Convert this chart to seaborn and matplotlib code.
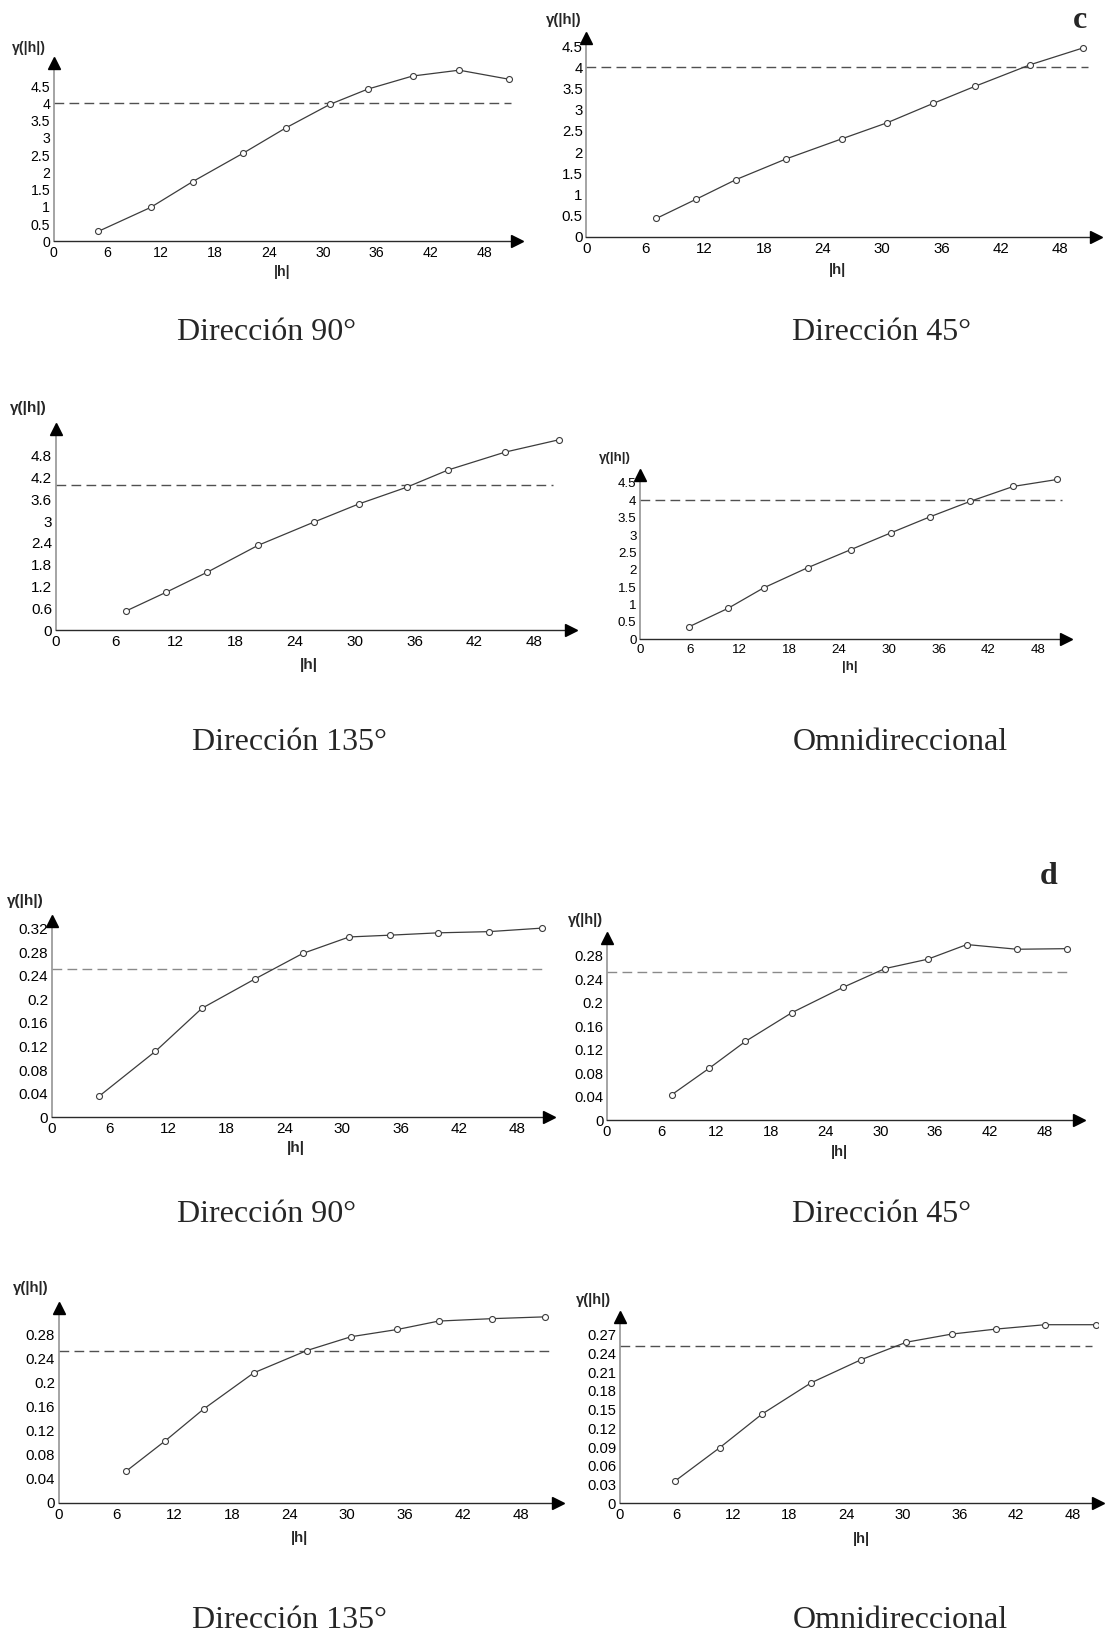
import matplotlib
matplotlib.use("Agg")
import matplotlib.pyplot as plt
import seaborn as sns

# ---------------- data ----------------
c90_x = [5.0, 10.8, 15.5, 21.1, 25.9, 30.8, 35.0, 40.0, 45.2, 50.7]
c90_y = [0.29, 0.98, 1.73, 2.55, 3.29, 3.97, 4.41, 4.79, 4.96, 4.70]
c45_x = [7.1, 11.1, 15.2, 20.3, 25.9, 30.5, 35.2, 39.4, 45.0, 50.4]
c45_y = [0.43, 0.88, 1.35, 1.84, 2.31, 2.69, 3.15, 3.55, 4.06, 4.46]
c135_x = [7.05, 11.1, 15.2, 20.3, 25.9, 30.4, 35.2, 39.4, 45.1, 50.5]
c135_y = [0.52, 1.04, 1.59, 2.33, 2.97, 3.47, 3.93, 4.41, 4.90, 5.24]
comni_x = [5.9, 10.6, 14.9, 20.2, 25.4, 30.2, 35.0, 39.8, 45.0, 50.3]
comni_y = [0.36, 0.89, 1.48, 2.06, 2.58, 3.06, 3.53, 3.97, 4.40, 4.60]

d90_x = [4.9, 10.7, 15.5, 21.0, 25.9, 30.7, 34.9, 39.9, 45.1, 50.6]
d90_y = [0.036, 0.112, 0.185, 0.235, 0.278, 0.306, 0.309, 0.313, 0.315, 0.321]
d45_x = [7.1, 11.2, 15.2, 20.3, 25.9, 30.5, 35.2, 39.5, 45.0, 50.5]
d45_y = [0.043, 0.088, 0.134, 0.183, 0.226, 0.258, 0.274, 0.299, 0.291, 0.292]
d135_x = [7.0, 11.1, 15.1, 20.3, 25.8, 30.4, 35.2, 39.5, 45.0, 50.5]
d135_y = [0.052, 0.103, 0.156, 0.216, 0.253, 0.276, 0.288, 0.302, 0.306, 0.309]
domni_x = [5.9, 10.6, 15.1, 20.3, 25.6, 30.4, 35.2, 39.9, 45.1, 50.5]
domni_y = [0.036, 0.089, 0.143, 0.193, 0.230, 0.258, 0.271, 0.279, 0.286, 0.286]

sill_c = 4.0
sill_d = 0.252

xticks = [0, 6, 12, 18, 24, 30, 36, 42, 48]
yt_c45 = [0, 0.5, 1, 1.5, 2, 2.5, 3, 3.5, 4, 4.5]
yt_c135 = [0, 0.6, 1.2, 1.8, 2.4, 3, 3.6, 4.2, 4.8]
yt_d90 = [0, 0.04, 0.08, 0.12, 0.16, 0.2, 0.24, 0.28, 0.32]
yt_d45 = [0, 0.04, 0.08, 0.12, 0.16, 0.2, 0.24, 0.28]
yt_domni = [0, 0.03, 0.06, 0.09, 0.12, 0.15, 0.18, 0.21, 0.24, 0.27]

titles = ["Dirección 90°", "Dirección 45°", "Dirección 135°", "Omnidireccional"]
ylab = "γ(|h|)"
xlab = "|h|"

# ---------------- layout (pixels of the 1107x1636 figure) ----------------
W, H = 1107, 1636
panels = [
    dict(x=c90_x, y=c90_y, sill=sill_c, yt=yt_c45, x0=53.6, x48=484.3, xtip=523, y0=241.3, yr=103.3, yrv=4, ytip=57,
         dash=51.0, fs=10.2, xl=(282, 272), yl=(29, 48), t=titles[0], tp=(267, 333), dc="#505050"),
    dict(x=c45_x, y=c45_y, sill=sill_c, yt=yt_c45, x0=586.2, x48=1059.7, xtip=1102, y0=236.7, yr=67.3, yrv=4, ytip=32,
         dash=50.9, fs=10.8, xl=(837, 270), yl=(564, 20), t=titles[1], tp=(882, 333), dc="#505050"),
    dict(x=c135_x, y=c135_y, sill=sill_c, yt=yt_c135, x0=55.5, x48=534.2, xtip=577, y0=630, yr=455.7, yrv=4.8, ytip=423,
         dash=49.9, fs=11.0, xl=(309, 665), yl=(28, 408), t=titles[2], tp=(289, 742), dc="#505050"),
    dict(x=comni_x, y=comni_y, sill=sill_c, yt=yt_c45, x0=640, x48=1038.3, xtip=1071.7, y0=639.3, yr=500.3, yrv=4, ytip=469,
         dash=50.8, fs=9.6, xl=(850, 667), yl=(615, 458), t=titles[3], tp=(900, 742), dc="#505050"),
    dict(x=d90_x, y=d90_y, sill=sill_d, yt=yt_d90, x0=51.8, x48=516.8, xtip=555, y0=1117.3, yr=928.7, yrv=0.32, ytip=915,
         dash=51.1, fs=11.0, xl=(296, 1148), yl=(25, 901), t=titles[0], tp=(267, 1215), dc="#8a8a8a"),
    dict(x=d45_x, y=d45_y, sill=sill_d, yt=yt_d45, x0=607, x48=1044.3, xtip=1085, y0=1120, yr=955.7, yrv=0.28, ytip=932,
         dash=51.0, fs=10.6, xl=(839, 1152), yl=(585, 920), t=titles[1], tp=(882, 1215), dc="#8a8a8a"),
    dict(x=d135_x, y=d135_y, sill=sill_d, yt=yt_d45, x0=58.5, x48=520.5, xtip=564, y0=1502.7, yr=1334.3, yrv=0.28, ytip=1302,
         dash=51.0, fs=10.8, xl=(300, 1538), yl=(31, 1288), t=titles[2], tp=(289, 1621), dc="#505050"),
    dict(x=domni_x, y=domni_y, sill=sill_d, yt=yt_domni, x0=619.7, x48=1072.4, xtip=1104, y0=1503.3, yr=1334.7, yrv=0.27, ytip=1311,
         dash=50.1, fs=10.6, xl=(861, 1539), yl=(593, 1300), t=titles[3], tp=(900, 1621), dc="#505050"),
]

sns.set_style("white")
plt.rcParams["font.family"] = ["Liberation Sans", "DejaVu Sans"]

fig = plt.figure(figsize=(W / 100, H / 100), dpi=100)
fig.patch.set_facecolor("white")

OFF = 6  # px between axes end and arrow tip
LINE = "#3c3c3c"

for p in panels:
    xunit = (p["x48"] - p["x0"]) / 48.0
    yunit = (p["y0"] - p["yr"]) / p["yrv"]
    right = p["xtip"] - OFF
    top = p["ytip"] + OFF
    ax = fig.add_axes([p["x0"] / W, 1 - p["y0"] / H, (right - p["x0"]) / W, (p["y0"] - top) / H])
    ax.set_facecolor("none")

    ax.axhline(p["sill"], xmin=0, xmax=p["dash"] / ((right - p["x0"]) / xunit),
               color=p["dc"], lw=1.0, dashes=(7, 3.8), zorder=1)
    sns.lineplot(x=p["x"], y=p["y"], ax=ax, color=LINE, lw=0.9, marker="o", markersize=4.3,
                 markerfacecolor="white", markeredgecolor=LINE, markeredgewidth=0.8, zorder=3)

    ax.set_xlim(0, (right - p["x0"]) / xunit)
    ax.set_ylim(0, (p["y0"] - top) / yunit)
    ax.set_xticks(xticks)
    ax.set_xticklabels([f"{v:g}" for v in xticks])
    ax.set_yticks(p["yt"])
    ax.set_yticklabels([f"{v:g}" for v in p["yt"]])
    ax.set_xlabel("")
    ax.set_ylabel("")

    for s in ["top", "right"]:
        ax.spines[s].set_visible(False)
    ax.spines["left"].set_color("#8c8c8c")
    ax.spines["left"].set_linewidth(1.1)
    ax.spines["bottom"].set_color("#2a2a2a")
    ax.spines["bottom"].set_linewidth(1.0)
    ax.tick_params(axis="x", direction="in", length=5, width=1, color="#2a2a2a", pad=3.5,
                   labelsize=p["fs"], labelcolor="black")
    ax.tick_params(axis="y", direction="in", length=5, width=1, color="#8c8c8c", pad=2.5,
                   labelsize=p["fs"], labelcolor="black")

    ax.plot([1], [0], marker=">", ms=9, color="black", transform=ax.transAxes, clip_on=False, zorder=5)
    ax.plot([0], [1], marker="^", ms=9, color="black", transform=ax.transAxes, clip_on=False, zorder=5)
    if ax.get_legend() is not None:
        ax.get_legend().remove()

    fig.text(p["xl"][0] / W, 1 - p["xl"][1] / H, xlab, ha="center", va="center",
             fontsize=p["fs"], fontweight="bold")
    fig.text(p["yl"][0] / W, 1 - p["yl"][1] / H, ylab, ha="center", va="center",
             fontsize=p["fs"], fontweight="bold")
    fig.text(p["tp"][0] / W, 1 - p["tp"][1] / H, p["t"], ha="center", va="center",
             fontsize=23, family="Liberation Serif")

fig.text(1080 / W, 1 - 21 / H, "c", ha="center", va="center", fontsize=23,
         fontweight="bold", family="Liberation Serif")
fig.text(1049 / W, 1 - 876 / H, "d", ha="center", va="center", fontsize=23,
         fontweight="bold", family="Liberation Serif")

fig.savefig("out.png", dpi=100, facecolor="white")
